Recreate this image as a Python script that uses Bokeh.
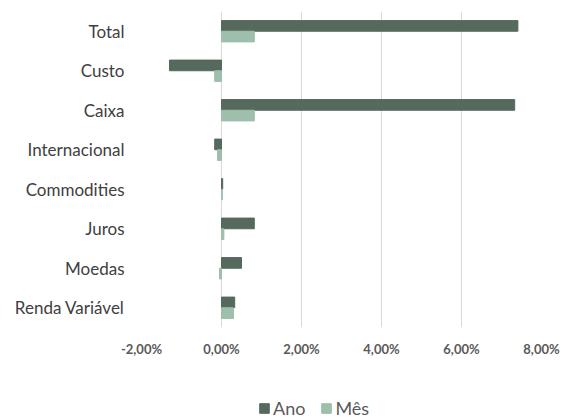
from bokeh.plotting import figure
from bokeh.layouts import column
from bokeh.models import ColumnDataSource, FactorRange, Range1d, Legend, LegendItem, CustomJSTickFormatter, FixedTicker
from bokeh.transform import dodge
from bokeh.embed import file_html
from bokeh.resources import INLINE

categories = ["Total", "Custo", "Caixa", "Internacional", "Commodities", "Juros", "Moedas", "Renda Variável"]
ano = [7.41, -1.30, 7.33, -0.17, 0.03, 0.82, 0.50, 0.33]
mes = [0.82, -0.17, 0.82, -0.10, 0.02, 0.06, -0.05, 0.30]
ticks = [-2, 0, 2, 4, 6, 8]

ANO_COLOR = "#55695d"
MES_COLOR = "#9dbfab"

src = ColumnDataSource(dict(cat=categories, ano=ano, mes=mes))

p = figure(width=562, height=372, output_backend="svg", toolbar_location=None,
           y_range=FactorRange(factors=categories[::-1], range_padding=0),
           x_range=Range1d(-2, 8),
           min_border_left=141, min_border_right=21, min_border_top=11, min_border_bottom=45)
p.outline_line_color = None
p.background_fill_color = "white"
p.border_fill_color = "white"

r1 = p.hbar(y=dodge("cat", 0.135, range=p.y_range), right="ano", left=0, height=0.27,
            source=src, fill_color=ANO_COLOR, line_color=ANO_COLOR)
r2 = p.hbar(y=dodge("cat", -0.135, range=p.y_range), right="mes", left=0, height=0.27,
            source=src, fill_color=MES_COLOR, line_color=MES_COLOR)

p.xaxis.ticker = FixedTicker(ticks=ticks)
p.xaxis.formatter = CustomJSTickFormatter(code="return tick.toFixed(2).replace('.', ',') + '%';")
p.xaxis.axis_line_color = None
p.xaxis.major_tick_line_color = None
p.xaxis.minor_tick_line_color = None
p.xaxis.major_label_text_font = "Lato"
p.xaxis.major_label_text_font_style = "bold"
p.xaxis.major_label_text_font_size = "13px"
p.xaxis.major_label_text_color = "#595959"
p.xaxis.major_label_standoff = 7

p.yaxis.axis_line_color = None
p.yaxis.major_tick_line_color = None
p.yaxis.minor_tick_line_color = None
p.yaxis.major_label_text_font = "Lato"
p.yaxis.major_label_text_font_size = "17px"
p.yaxis.major_label_text_color = "#404040"
p.yaxis.major_label_standoff = 11

p.ygrid.grid_line_color = None
p.xgrid.grid_line_color = "#d9d9d9"
p.xgrid.grid_line_width = 1

# legend strip below the chart
leg = figure(width=562, height=47, output_backend="svg", toolbar_location=None,
             x_range=Range1d(0, 1), y_range=Range1d(0, 1), x_axis_type=None, y_axis_type=None,
             min_border=0)
leg.outline_line_color = None
leg.grid.visible = False
l1 = leg.hbar(y="cat", right="ano", left=0, height=0.27, source=src,
              fill_color=ANO_COLOR, line_color=ANO_COLOR, visible=False)
l2 = leg.hbar(y="cat", right="mes", left=0, height=0.27, source=src,
              fill_color=MES_COLOR, line_color=MES_COLOR, visible=False)

legend = Legend(items=[LegendItem(label="Ano", renderers=[l1]), LegendItem(label="Mês", renderers=[l2])],
                orientation="horizontal", location=(117, 0),
                label_text_font="Lato", label_text_font_size="18px", label_text_color="#595959",
                glyph_width=12, glyph_height=12, label_standoff=3, spacing=15,
                border_line_color=None, background_fill_alpha=0, padding=0, margin=0)
leg.add_layout(legend, "center")

layout = column(p, leg, spacing=0)
open("out.html", "w").write(file_html(layout, INLINE))
